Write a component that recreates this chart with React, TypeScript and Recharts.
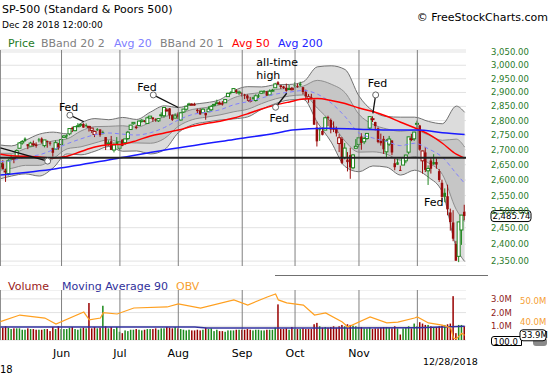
import React from 'react'
import {
  ComposedChart,
  Bar,
  Line,
  Area,
  XAxis,
  YAxis,
  CartesianGrid,
  ReferenceLine,
  ReferenceDot,
} from 'recharts'

const FONT = '"DejaVu Sans", Verdana, sans-serif'

// daily sessions, May 1 - Dec 28 2018 (168 bars)
const opens = [
  2643, 2654, 2628, 2621, 2671, 2671, 2678, 2705, 2723, 2738, 2719, 2712, 2720, 2718, 2735, 2738, 2714, 2730, 2724, 2706, 2702, 2721,
  2718, 2742, 2749, 2754, 2775, 2765, 2780, 2785, 2788, 2784, 2777, 2766, 2752, 2770, 2769, 2760, 2743, 2722, 2729, 2699, 2727,
  2705, 2734, 2724, 2738, 2769, 2789, 2779, 2783, 2797, 2799, 2790, 2809, 2811, 2805, 2799, 2820, 2817, 2836, 2843, 2820, 2809,
  2822, 2802, 2830, 2840, 2856, 2856, 2858, 2838, 2836, 2828, 2827, 2831, 2838, 2854, 2861, 2860, 2861, 2863, 2885, 2902, 2900, 2908, 2898,
  2897, 2892, 2889, 2869, 2882, 2871, 2889, 2897, 2906, 2904, 2891, 2906, 2917, 2937, 2926, 2922, 2917, 2911, 2910,
  2926, 2924, 2932, 2919, 2902, 2878, 2882, 2874, 2776, 2770, 2764, 2767, 2812, 2802, 2775, 2774, 2721, 2737, 2674, 2667, 2682, 2640, 2705,
  2718, 2745, 2727, 2738, 2774, 2806, 2795, 2773, 2730, 2737, 2693, 2719, 2731, 2655, 2658, 2633, 2649, 2663, 2692, 2737, 2737,
  2790, 2783, 2663, 2691, 2630, 2664, 2659, 2659, 2629, 2591, 2559, 2548, 2497, 2466, 2401, 2364, 2443, 2499,
]
const highs = [
  2655, 2665, 2637, 2670, 2684, 2676, 2701, 2726, 2733, 2742, 2719, 2727, 2731, 2725, 2740, 2742, 2733, 2731, 2728, 2707, 2732, 2723,
  2737, 2750, 2753, 2773, 2779, 2779, 2791, 2789, 2791, 2790, 2782, 2775, 2765, 2774, 2770, 2765, 2743, 2732, 2747, 2725, 2743,
  2727, 2736, 2737, 2764, 2785, 2795, 2785, 2800, 2805, 2802, 2814, 2816, 2811, 2808, 2808, 2829, 2848, 2844, 2844, 2821, 2825,
  2829, 2829, 2841, 2851, 2863, 2862, 2863, 2842, 2843, 2843, 2828, 2850, 2855, 2859, 2874, 2868, 2869, 2876, 2899, 2904, 2916, 2912, 2907,
  2901, 2895, 2893, 2884, 2884, 2893, 2895, 2906, 2908, 2905, 2911, 2913, 2935, 2941, 2926, 2924, 2932, 2927, 2920,
  2937, 2932, 2939, 2920, 2910, 2894, 2895, 2874, 2796, 2776, 2776, 2814, 2817, 2807, 2797, 2779, 2753, 2743, 2723, 2692, 2707, 2685, 2736,
  2742, 2756, 2744, 2757, 2815, 2815, 2796, 2776, 2755, 2747, 2736, 2747, 2733, 2670, 2670, 2647, 2675, 2683, 2744, 2754, 2761,
  2800, 2785, 2697, 2709, 2648, 2675, 2685, 2671, 2636, 2601, 2573, 2585, 2509, 2504, 2410, 2468, 2489, 2521,
]
const lows = [
  2626, 2635, 2594, 2615, 2664, 2655, 2674, 2705, 2717, 2727, 2702, 2712, 2711, 2707, 2725, 2721, 2708, 2707, 2714, 2677, 2702, 2700,
  2718, 2740, 2737, 2749, 2760, 2763, 2780, 2778, 2775, 2776, 2762, 2757, 2743, 2764, 2744, 2752, 2699, 2713, 2699, 2691, 2718,
  2698, 2712, 2716, 2733, 2769, 2786, 2770, 2783, 2793, 2794, 2789, 2806, 2796, 2796, 2795, 2811, 2810, 2832, 2806, 2799, 2808,
  2806, 2800, 2827, 2835, 2855, 2853, 2852, 2825, 2820, 2826, 2803, 2831, 2834, 2850, 2859, 2857, 2853, 2862, 2885, 2893, 2899, 2895, 2891,
  2885, 2876, 2869, 2864, 2874, 2867, 2880, 2896, 2896, 2887, 2890, 2903, 2917, 2927, 2913, 2913, 2903, 2909, 2907,
  2919, 2917, 2921, 2893, 2874, 2863, 2875, 2785, 2711, 2730, 2749, 2767, 2781, 2756, 2760, 2745, 2692, 2652, 2668, 2628, 2604, 2635, 2705,
  2708, 2700, 2719, 2734, 2767, 2795, 2766, 2722, 2714, 2686, 2671, 2713, 2682, 2632, 2650, 2631, 2649, 2655, 2685, 2729, 2730,
  2774, 2697, 2621, 2626, 2584, 2621, 2650, 2637, 2594, 2530, 2529, 2488, 2441, 2409, 2351, 2347, 2398, 2473,
]
const closes = [
  2654.8, 2635.7, 2629.7, 2663.4, 2672.6, 2671.9, 2697.8, 2723.1, 2727.7, 2730.1, 2711.5, 2722.5, 2720.1, 2713.0, 2733.0, 2724.4, 2733.3, 2727.8, 2721.3, 2689.9, 2724.0, 2705.3,
  2734.6, 2746.9, 2748.8, 2772.4, 2770.4, 2779.0, 2782.0, 2786.9, 2775.6, 2782.5, 2779.7, 2773.8, 2762.6, 2767.3, 2749.8, 2754.9, 2717.1, 2723.1, 2699.6, 2716.3, 2718.4,
  2726.7, 2713.2, 2736.6, 2759.8, 2784.2, 2793.8, 2774.0, 2798.3, 2801.3, 2798.4, 2809.6, 2815.6, 2804.5, 2801.8, 2807.0, 2820.4, 2846.1, 2837.4, 2818.8, 2802.6, 2816.3,
  2813.4, 2827.2, 2840.4, 2850.4, 2858.5, 2857.7, 2853.6, 2833.3, 2821.9, 2840.0, 2818.4, 2840.7, 2850.1, 2857.1, 2863.0, 2861.8, 2857.0, 2874.7, 2896.7, 2897.5, 2914.0, 2901.1, 2901.5,
  2896.7, 2888.6, 2878.1, 2871.7, 2877.1, 2887.9, 2888.9, 2904.2, 2905.0, 2888.8, 2904.3, 2908.0, 2930.8, 2929.7, 2919.4, 2915.6, 2906.0, 2914.0, 2913.98,
  2924.6, 2923.4, 2925.5, 2901.6, 2885.6, 2884.4, 2880.3, 2785.7, 2728.4, 2767.1, 2750.8, 2809.9, 2809.2, 2768.8, 2767.8, 2755.9, 2740.7, 2656.1, 2705.6, 2658.7, 2641.3, 2682.6, 2711.7,
  2740.4, 2723.1, 2738.3, 2755.5, 2813.9, 2806.8, 2781.0, 2726.2, 2722.2, 2701.6, 2730.2, 2736.3, 2690.7, 2641.9, 2649.9, 2632.6, 2673.5, 2682.2, 2743.8, 2737.8, 2760.2,
  2790.4, 2700.1, 2696.0, 2633.1, 2637.7, 2636.8, 2651.1, 2650.5, 2600.0, 2545.9, 2546.2, 2507.0, 2467.4, 2416.6, 2351.1, 2467.7, 2488.8, 2485.74,
]
// volume, millions as scaled on the panel
const volumes = [
  0.95, 0.9, 1.0, 0.9, 0.8, 0.85, 0.85, 0.85, 0.75, 0.75, 0.85, 0.8, 0.8, 0.75, 0.75, 0.75, 0.8, 0.8, 0.65, 0.95, 0.8, 1.0,
  0.8, 0.8, 0.8, 0.9, 0.95, 0.8, 0.75, 0.85, 0.9, 0.85, 2.7, 0.85, 0.95, 0.85, 0.9, 2.5, 1.0, 0.85, 0.95, 0.8, 0.95,
  0.6, 0.5, 0.7, 0.65, 0.75, 0.75, 0.8, 0.75, 0.7, 0.75, 0.8, 0.8, 0.8, 0.85, 0.75, 0.85, 0.85, 0.95, 0.9, 0.85, 0.95,
  0.85, 0.8, 0.75, 0.7, 0.75, 0.7, 0.7, 0.75, 0.7, 0.75, 0.9, 0.8, 0.85, 0.65, 0.75, 0.65, 0.65, 0.6, 0.7, 0.7, 0.7, 0.75, 0.75,
  0.75, 0.75, 0.8, 0.75, 0.7, 0.75, 0.75, 0.7, 0.7, 0.75, 0.75, 0.75, 0.9, 2.6, 0.8, 0.8, 0.85, 0.75, 0.95,
  0.8, 0.8, 0.8, 0.85, 0.8, 0.8, 0.8, 1.15, 1.25, 1.0, 0.9, 0.95, 0.9, 0.95, 1.0, 0.9, 1.0, 1.1, 1.0, 1.15, 1.1, 1.05, 1.0,
  0.95, 0.95, 0.85, 0.85, 0.9, 0.8, 0.85, 0.85, 0.9, 0.95, 0.95, 0.9, 0.85, 1.0, 0.85, 0.4, 0.85, 0.9, 1.0, 0.85, 1.2,
  1.0, 1.3, 1.2, 1.1, 1.1, 1.0, 0.95, 0.95, 1.0, 1.05, 1.1, 1.15, 1.2, 3.2, 0.5, 1.1, 1.1, 1.0,
]

const monthStartIdx = [0, 22, 43, 64, 87, 106, 129, 150]
const monthNames = ['May', 'Jun', 'Jul', 'Aug', 'Sep', 'Oct', 'Nov', 'Dec']

// indicator readings, about one per week
const bandIdx = [0, 4, 9, 14, 19, 24, 29, 34, 39, 44, 49, 54, 59, 64, 69, 74, 79, 84, 89, 94, 99, 104, 109, 114, 119, 124, 129, 134, 139, 144, 149, 154, 159, 164, 167]
const avg20 = [2660, 2663, 2676, 2683, 2700, 2720, 2737, 2751, 2757, 2753, 2750, 2758, 2776, 2802, 2821, 2829, 2838, 2856, 2867, 2880, 2894, 2901, 2907, 2894, 2862, 2814, 2757, 2740, 2728, 2714, 2722, 2703, 2675, 2621, 2589]
const bandUp2 = [2716, 2713, 2732, 2753, 2760, 2754, 2791, 2807, 2803, 2811, 2804, 2830, 2852, 2846, 2857, 2863, 2874, 2906, 2921, 2920, 2928, 2929, 2939, 2994, 2998, 2984, 2887, 2834, 2814, 2812, 2812, 2797, 2789, 2851, 2829]
const bandUp1 = [2688, 2688, 2704, 2718, 2730, 2737, 2764, 2779, 2780, 2782, 2777, 2794, 2814, 2824, 2839, 2846, 2856, 2881, 2894, 2900, 2911, 2915, 2923, 2944, 2930, 2899, 2822, 2787, 2771, 2763, 2767, 2750, 2732, 2736, 2709]
const bandLo1 = [2632, 2638, 2648, 2648, 2670, 2703, 2710, 2723, 2734, 2724, 2723, 2722, 2738, 2780, 2803, 2812, 2820, 2831, 2840, 2860, 2877, 2887, 2891, 2844, 2794, 2729, 2692, 2693, 2685, 2665, 2677, 2656, 2618, 2506, 2469]
const bandLo2 = [2604, 2613, 2620, 2613, 2640, 2686, 2683, 2695, 2711, 2695, 2696, 2686, 2700, 2758, 2785, 2795, 2802, 2806, 2813, 2840, 2860, 2873, 2875, 2794, 2726, 2644, 2627, 2646, 2642, 2616, 2632, 2609, 2561, 2391, 2349]
const avg50 = [2685, 2680, 2678, 2676, 2672, 2678, 2694, 2709, 2717, 2719, 2731, 2747, 2757, 2767, 2780, 2790, 2798, 2809, 2824, 2841, 2855, 2866, 2876, 2878, 2871, 2860, 2844, 2832, 2815, 2794, 2775, 2753, 2722, 2685, 2672]
const avg200Idx = [0, 20, 42, 63, 84, 99, 105, 117, 129, 141, 150, 159, 167]
const avg200 = [2616, 2637, 2671, 2705, 2735, 2756, 2767, 2773, 2770, 2767, 2767, 2758, 2752]

const obvIdx = [0, 7, 16, 20, 30, 32, 36, 37, 42, 48, 60, 64, 72, 84, 89, 96, 99, 100, 103, 109, 113, 117, 123, 125, 133, 139, 143, 149, 150, 154, 159, 162, 163, 164, 165, 166, 167]
const obv = [40.3, 43.4, 42.0, 39.2, 44.8, 41.1, 42.0, 44.5, 43.9, 46.7, 47.2, 48.6, 46.7, 50.5, 48.1, 51.9, 53.3, 50.5, 49.1, 48.1, 43.4, 44.4, 40.1, 37.8, 42.5, 39.7, 40.1, 42.0, 42.5, 39.7, 38.7, 37.3, 32.6, 32.2, 33.5, 34.8, 33.9]
const volAvgIdx = [0, 40, 70, 74, 120, 150, 160, 167]
const volAvg90 = [0.95, 0.95, 0.94, 0.88, 0.88, 0.9, 0.95, 1.0]

const priceTicks = [2350, 2400, 2450, 2500, 2550, 2600, 2650, 2700, 2750, 2800, 2850, 2900, 2950, 3000, 3050]
const flatLevel = 2673

// chart notes: anchor session, price, text and where the text sits
const notes = [
  { from: [0, 2706], to: [17, 2662], text: [] as string[], dx: 0, dy: 0 },
  { from: [30, 2796], to: [25, 2819], text: ['Fed'], dx: -11, dy: -4.5 },
  { from: [64, 2846], to: [55, 2891], text: ['Fed'], dx: -16, dy: -4 },
  { from: [103, 2897], to: [99, 2847], text: ['Fed'], dx: -6, dy: 14.5 },
  { from: [134, 2825], to: [135, 2891], text: ['Fed'], dx: -8, dy: -8 },
]
const plainNotes = [
  { at: [100, 2941], text: ['all-time', 'high'], dx: -22, dy: -15 },
  { at: [161, 2585], text: ['Fed'], dx: -24, dy: 21.5 },
]

const GREEN = '#1f861f'
const RED = '#9a0c0c'

const candles = closes.map((c, i) => {
  const o = opens[i]
  return {
    i,
    o,
    c,
    wick: [lows[i], highs[i]],
    body: [Math.min(o, c), Math.max(o, c)],
    vol: volumes[i],
    up: i === 0 || c >= closes[i - 1],
  }
})
const bandRows = bandIdx.map((i, k) => ({
  i,
  outer: [bandLo2[k], bandUp2[k]],
  inner: [bandLo1[k], bandUp1[k]],
  ma20: avg20[k],
  ma50: avg50[k],
}))
const ma200Rows = avg200Idx.map((i, k) => ({ i, ma200: avg200[k] }))
const obvRows = obvIdx.map((i, k) => ({ i, obv: obv[k] }))
const ma90Rows = volAvgIdx.map((i, k) => ({ i, ma90: volAvg90[k] }))

const fmtPrice = (v: number) => v.toLocaleString('en-US', { minimumFractionDigits: 2, maximumFractionDigits: 2 })

function Wick(p: any) {
  const cx = p.x + p.width / 2
  return <line x1={cx} x2={cx} y1={p.y} y2={p.y + p.height} stroke={p.payload.up ? GREEN : RED} strokeWidth={1} />
}

function Body(p: any) {
  const cx = p.x + p.width / 2
  const h = Math.max(p.height, 1)
  const col = p.payload.up ? GREEN : RED
  if (p.payload.c > p.payload.o) {
    return <rect x={cx - 1.5} y={p.y} width={3} height={h} fill="#fff" stroke={col} strokeWidth={1} />
  }
  return <rect x={cx - 1.25} y={p.y} width={2.5} height={h} fill={col} />
}

function VolBar(p: any) {
  const cx = p.x + p.width / 2
  return <rect x={cx - 0.75} y={p.y} width={1.5} height={p.height} fill={p.payload.up ? '#1c8a1c' : '#990000'} />
}

function noteText(lines: string[], dx: number, dy: number) {
  return (props: any) => {
    const vb = props.viewBox || {}
    const cx = vb.x + (vb.width || 0) / 2
    const cy = vb.y + (vb.height || 0) / 2
    return (
      <text x={cx + dx} y={cy + dy} fontSize={11} fontFamily={FONT} fill="#000">
        {lines.map((t, k) => (
          <tspan key={k} x={cx + dx} dy={k === 0 ? 0 : 12.5}>
            {t}
          </tspan>
        ))}
      </text>
    )
  }
}

function tag(text: string, gap: number, w: number) {
  return (props: any) => {
    const vb = props.viewBox || {}
    const x = vb.x + vb.width + gap
    const y = vb.y
    return (
      <g>
        <rect x={x} y={y - 5.5} width={w} height={11} rx={3} fill="#fff" stroke="#000" strokeWidth={1} />
        <text x={x + 1.5} y={y + 3} fontSize={8.5} fontFamily={FONT} fill="#000">
          {text}
        </text>
      </g>
    )
  }
}

const legendTop = [
  { text: 'Price', x: 8, color: '#1f7a1f' },
  { text: 'BBand 20 2', x: 41, color: '#808080' },
  { text: 'Avg 20', x: 114, color: '#8080ff' },
  { text: 'BBand 20 1', x: 160, color: '#808080' },
  { text: 'Avg 50', x: 232, color: '#ff0000' },
  { text: 'Avg 200', x: 278, color: '#2222ff' },
]
const legendVol = [
  { text: 'Volume', x: 8, color: '#9a1a1a' },
  { text: 'Moving Average 90', x: 62, color: '#30309a' },
  { text: 'OBV', x: 176, color: '#f7a030' },
]

const txt = (left: number, top: number, size: number, color: string, extra: any = {}) => ({
  position: 'absolute' as const,
  left,
  top,
  fontSize: size,
  lineHeight: `${size}px`,
  color,
  whiteSpace: 'nowrap' as const,
  ...extra,
})

export default function App() {
  const last = closes[closes.length - 1]
  const lastObv = obv[obv.length - 1]
  return (
    <div style={{ position: 'absolute', left: 0, top: 0, width: 550, height: 375, overflow: 'hidden', background: '#fff', fontFamily: FONT }}>
      <div style={txt(2, 4, 11, '#000')}>SP-500 (Standard &amp; Poors 500)</div>
      <div style={txt(2, 20.7, 9, '#000')}>Dec 28 2018 12:00:00</div>
      <div style={txt(0, 11.7, 11, '#000', { left: undefined, right: 2 })}>© FreeStockCharts.com</div>
      {legendTop.map((l) => (
        <div key={l.text} style={txt(l.x, 37.7, 11, l.color)}>
          {l.text}
        </div>
      ))}
      {legendVol.map((l) => (
        <div key={l.text} style={txt(l.x, 280.7, 11, l.color)}>
          {l.text}
        </div>
      ))}
      <div style={{ position: 'absolute', left: 275, top: 275, width: 213, height: 1, background: '#707070' }} />
      <div style={{ position: 'absolute', left: 533, top: 338, width: 14, height: 8, background: '#8a8a8a', borderRadius: 3 }} />
      <div
        style={{
          position: 'absolute',
          left: 491,
          top: 335.5,
          width: 31,
          height: 10,
          border: '1px solid #000',
          borderRadius: '3px 0 0 3px',
          fontSize: 8.5,
          lineHeight: '10px',
          paddingLeft: 1.5,
          boxSizing: 'border-box',
        }}
      >
        100.0
      </div>

      <div style={{ position: 'absolute', left: -1, top: 40 }}>
        <ComposedChart width={551} height={226} data={candles} margin={{ top: 10, right: 0, bottom: 0, left: 0 }}>
          <XAxis type="number" dataKey="i" domain={[-0.5, 167.5]} allowDataOverflow hide />
          <XAxis xAxisId="b" type="number" dataKey="i" domain={[-0.5, 167.5]} allowDataOverflow hide />
          <YAxis
            orientation="right"
            scale="log"
            domain={[2335.7, 3057.6]}
            allowDataOverflow
            ticks={priceTicks}
            interval={0}
            width={84}
            axisLine={false}
            tickLine={false}
            tickSize={0}
            tickMargin={25}
            tick={{ fontSize: 8.5, fill: '#2a7a2a', fontFamily: FONT }}
            tickFormatter={fmtPrice}
          />
          <CartesianGrid vertical={false} stroke="#e2e2e2" />
          {monthStartIdx.map((m) => (
            <ReferenceLine key={m} x={m} stroke="#808080" strokeWidth={1} />
          ))}
          <Area data={bandRows} dataKey="outer" type="monotone" stroke="#727272" strokeWidth={1} fill="#dcdcdc" fillOpacity={1} dot={false} activeDot={false} isAnimationActive={false} />
          <Area data={bandRows} dataKey="inner" type="monotone" stroke="#8e8e8e" strokeWidth={1} fill="#c6c6c6" fillOpacity={1} dot={false} activeDot={false} isAnimationActive={false} />
          <Line data={bandRows} dataKey="ma20" type="monotone" stroke="#8080ff" strokeWidth={1} strokeDasharray="4 3" dot={false} activeDot={false} isAnimationActive={false} />
          <Bar dataKey="wick" barSize={2} shape={Wick} isAnimationActive={false} />
          <Bar xAxisId="b" dataKey="body" barSize={2} shape={Body} isAnimationActive={false} />
          <Line data={bandRows} dataKey="ma50" type="monotone" stroke="#ff0000" strokeWidth={1.5} dot={false} activeDot={false} isAnimationActive={false} />
          <Line data={ma200Rows} dataKey="ma200" type="monotone" stroke="#1a1aff" strokeWidth={1.5} dot={false} activeDot={false} isAnimationActive={false} />
          <ReferenceLine y={flatLevel} stroke="#222" strokeWidth={2} />
          {notes.map((n, k) => (
            <ReferenceLine
              key={`s${k}`}
              segment={[
                { x: n.from[0], y: n.from[1] },
                { x: n.to[0], y: n.to[1] },
              ]}
              stroke="#111"
              strokeWidth={1.3}
            />
          ))}
          {notes.map((n, k) => (
            <ReferenceDot key={`d${k}`} x={n.to[0]} y={n.to[1]} r={3} fill="#fff" stroke="#666" strokeWidth={1} label={noteText(n.text, n.dx, n.dy)} />
          ))}
          {plainNotes.map((n, k) => (
            <ReferenceDot key={`p${k}`} x={n.at[0]} y={n.at[1]} r={0} fill="none" stroke="none" label={noteText(n.text, n.dx, n.dy)} />
          ))}
          <ReferenceLine y={last} stroke="none" label={tag(fmtPrice(last), 25, 40)} />
        </ComposedChart>
      </div>

      <div style={{ position: 'absolute', left: -1, top: 290 }}>
        <ComposedChart width={551} height={75} data={candles} margin={{ top: 0, right: 0, bottom: 0, left: 0 }}>
          <XAxis
            type="number"
            dataKey="i"
            domain={[-0.5, 167.5]}
            allowDataOverflow
            ticks={monthStartIdx.slice(1, 7)}
            interval={0}
            tickFormatter={(v: number) => monthNames[monthStartIdx.indexOf(v)]}
            axisLine={false}
            tickLine={false}
            tickSize={0}
            tickMargin={9}
            height={25}
            tick={{ fontSize: 11, fill: '#000', fontFamily: FONT }}
          />
          <YAxis
            yAxisId="b_obv"
            orientation="right"
            domain={[31.69, 55.16]}
            allowDataOverflow
            ticks={[40, 50]}
            interval={0}
            width={55}
            axisLine={false}
            tickLine={false}
            tickSize={0}
            tickMargin={25}
            tick={{ fontSize: 8.5, fill: '#f5a036', fontFamily: FONT }}
            tickFormatter={(v: number) => `${v.toFixed(1)}M`}
          />
          <YAxis
            yAxisId="a_vol"
            orientation="right"
            domain={[0, 3.65]}
            allowDataOverflow
            ticks={[1, 2, 3]}
            interval={0}
            width={29}
            axisLine={false}
            tickLine={false}
            tickSize={0}
            tickMargin={25}
            tick={{ fontSize: 8.5, fill: '#8e1a1a', fontFamily: FONT }}
            tickFormatter={(v: number) => `${v.toFixed(1)}M`}
          />
          <CartesianGrid yAxisId="a_vol" vertical={false} stroke="#e2e2e2" />
          {monthStartIdx.map((m) => (
            <ReferenceLine key={m} yAxisId="a_vol" x={m} stroke="#808080" strokeWidth={1} />
          ))}
          <Bar yAxisId="a_vol" dataKey="vol" barSize={2} shape={VolBar} isAnimationActive={false} />
          <Line yAxisId="a_vol" data={ma90Rows} dataKey="ma90" type="monotone" stroke="#3030a0" strokeWidth={1.5} dot={false} activeDot={false} isAnimationActive={false} />
          <Line yAxisId="b_obv" data={obvRows} dataKey="obv" type="linear" stroke="#ffa020" strokeWidth={1.2} dot={false} activeDot={false} isAnimationActive={false} />
          <ReferenceLine yAxisId="b_obv" y={lastObv} stroke="none" label={tag(`${lastObv.toFixed(1)}M`, 54, 26)} />
        </ComposedChart>
      </div>

      <div style={txt(423, 356.5, 9.5, '#000')}>12/28/2018</div>
      <div style={txt(0, 365, 10, '#000')}>18</div>
    </div>
  )
}
